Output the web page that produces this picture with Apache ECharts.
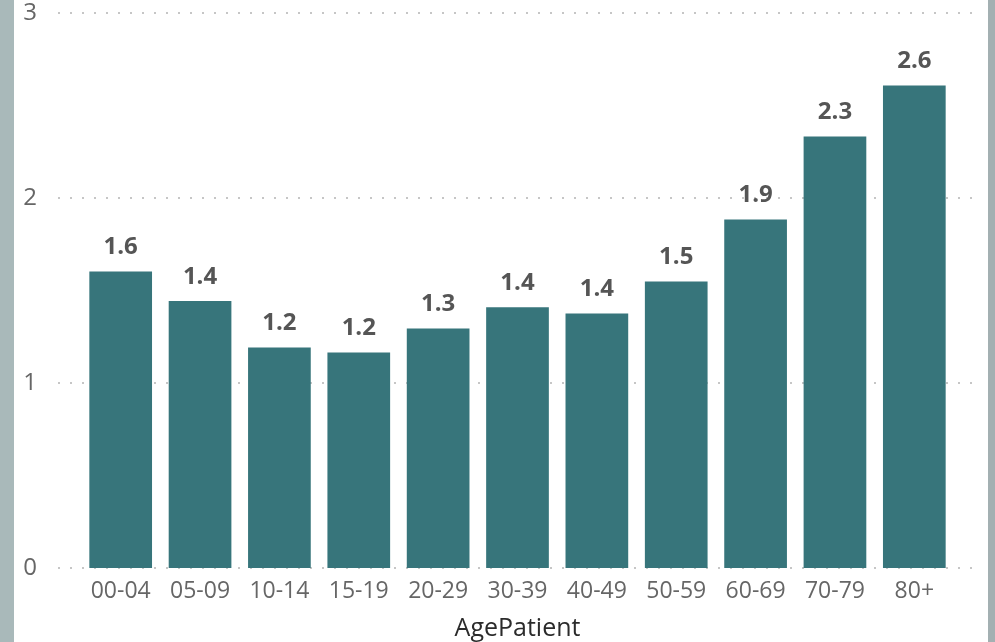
<!DOCTYPE html>
<html>
<head>
<meta charset="utf-8">
<script src="https://cdn.jsdelivr.net/npm/echarts@6/dist/echarts.min.js"></script>
<style>
  html, body { margin: 0; padding: 0; background: #ffffff; }
  #chart { width: 995px; height: 642px; }
</style>
</head>
<body>
<div id="chart"></div>
<script>
// Age groups of the patients
const ageGroups = ['00-04', '05-09', '10-14', '15-19', '20-29', '30-39', '40-49', '50-59', '60-69', '70-79', '80+'];
// Average value per age group
const avgValues = [1.603, 1.443, 1.192, 1.165, 1.295, 1.41, 1.376, 1.549, 1.884, 2.332, 2.608];
// Value axis ticks
const yTicks = [0, 1, 2, 3];

const axisColor = '#666666';
const barColor = '#37757b';

const chart = echarts.init(document.getElementById('chart'), null, { renderer: 'canvas' });

const yMin = yTicks[0];
const yMax = yTicks[yTicks.length - 1];
const yStep = yTicks[1] - yTicks[0];

chart.setOption({
  backgroundColor: '#ffffff',
  animation: false,
  graphic: [
    { type: 'rect', left: 0, top: 0, shape: { width: 14, height: 642 }, style: { fill: '#a9b9ba' }, z: 100 },
    { type: 'rect', left: 988, top: 0, shape: { width: 7, height: 642 }, style: { fill: '#a3b0b2' }, z: 100 }
  ],
  grid: [
    // grid carrying the dotted gridlines and value labels
    { left: 58, right: 22, top: 13, bottom: 74, containLabel: false, outerBoundsMode: 'none' },
    // grid carrying the bars
    { left: 81, right: 41, top: 13, bottom: 74, containLabel: false, outerBoundsMode: 'none' }
  ],
  xAxis: [
    {
      gridIndex: 0, type: 'value', show: false, min: 0, max: 1
    },
    {
      gridIndex: 1,
      type: 'category',
      data: ageGroups,
      name: 'AgePatient',
      nameLocation: 'middle',
      nameGap: 48,
      nameTextStyle: { fontFamily: 'Open Sans', fontSize: 25, fontWeight: 500, color: '#2b2b2b' },
      axisLine: { show: false },
      axisTick: { show: false },
      axisLabel: {
        interval: 0, hideOverlap: false,
        fontFamily: 'Open Sans', fontSize: 23, color: axisColor, margin: 12
      },
      splitLine: { show: false }
    }
  ],
  yAxis: [
    {
      gridIndex: 0,
      type: 'value',
      min: yMin, max: yMax, interval: yStep,
      axisLine: { show: false },
      axisTick: { show: false },
      axisLabel: { fontFamily: 'Open Sans', fontSize: 24, color: axisColor, margin: 21 },
      splitLine: { show: true, lineStyle: { color: '#c6c6c6', width: 2, type: [2, 10] } }
    },
    {
      gridIndex: 1,
      type: 'value',
      min: yMin, max: yMax, interval: yStep,
      show: false,
      splitLine: { show: false }
    }
  ],
  series: [
    {
      type: 'bar',
      xAxisIndex: 1,
      yAxisIndex: 1,
      data: avgValues,
      barCategoryGap: '21%',
      itemStyle: { color: barColor },
      label: {
        show: true,
        position: 'top',
        distance: 12,
        fontFamily: 'Open Sans',
        fontWeight: 'bold',
        fontSize: 24,
        color: '#555555',
        formatter: p => p.value.toFixed(1)
      }
    }
  ]
});
</script>
</body>
</html>
